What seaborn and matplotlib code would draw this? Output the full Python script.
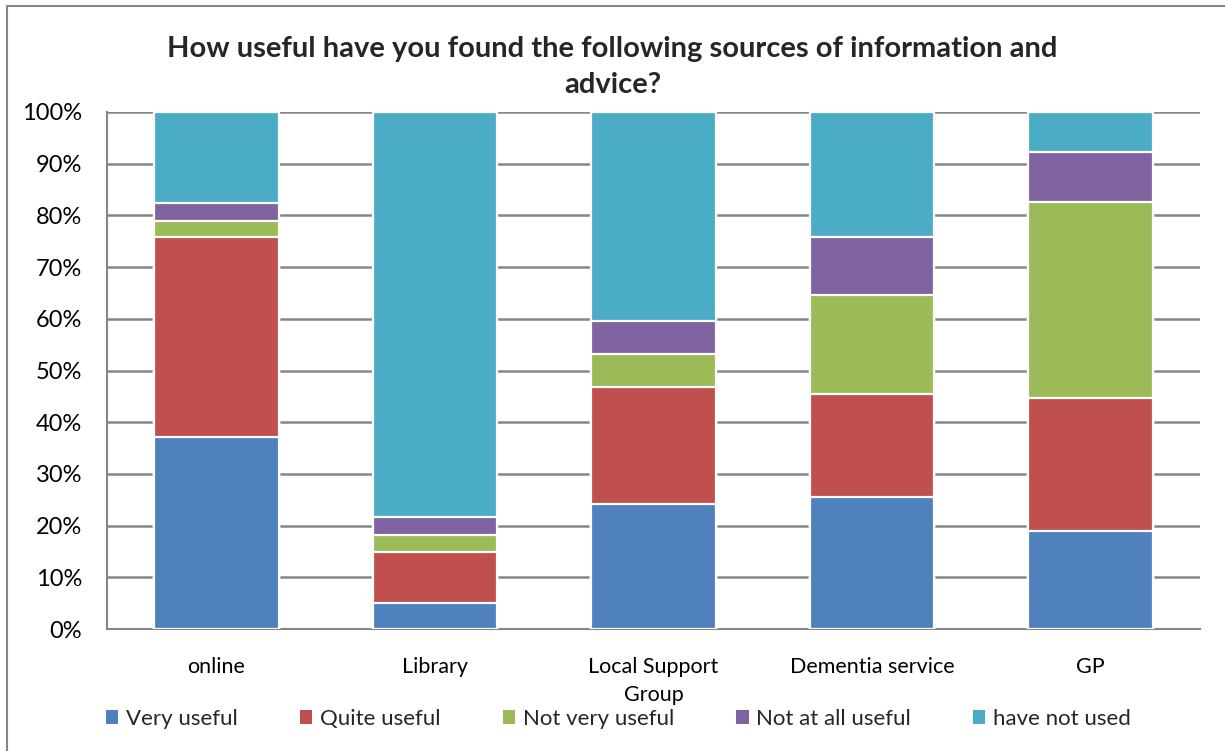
import numpy as np
import pandas as pd
import matplotlib
matplotlib.use("Agg")
import matplotlib.pyplot as plt
import seaborn as sns
from matplotlib.patches import Patch
from matplotlib.lines import Line2D

categories = ["online", "Library", "Local Support\nGroup", "Dementia service", "GP"]
series_names = ["Very useful", "Quite useful", "Not very useful", "Not at all useful", "have not used"]
very_useful = [37.2, 5.1, 24.1, 25.6, 19.0]
quite_useful = [38.6, 9.7, 22.8, 19.8, 25.6]
not_very_useful = [3.2, 3.4, 6.2, 19.3, 37.9]
not_at_all_useful = [3.4, 3.5, 6.5, 11.2, 9.7]
have_not_used = [17.6, 78.3, 40.4, 24.1, 7.8]
colors = ["#4F81BD", "#C0504D", "#9BBB59", "#8064A2", "#4BACC6"]
y_ticks = [0, 10, 20, 30, 40, 50, 60, 70, 80, 90, 100]
y_ticklabels = [f"{t}%" for t in y_ticks]

sns.set_theme(style="white")
plt.rcParams["font.family"] = ["Lato", "DejaVu Sans"]

values = [very_useful, quite_useful, not_very_useful, not_at_all_useful, have_not_used]
cum = np.cumsum(np.array(values), axis=0)
df = pd.DataFrame({"category": categories})
for name, c in zip(series_names, cum):
    df[name] = c

fig = plt.figure(figsize=(12.25, 7.51), dpi=100)
ax = fig.add_axes([107/1225, 1 - 629/751, (1200-107)/1225, (629-112)/751])

for i in range(len(series_names) - 1, -1, -1):
    sns.barplot(data=df, x="category", y=series_names[i], color=colors[i],
                width=0.57, edgecolor="white", linewidth=1.6, saturation=1,
                ax=ax, zorder=3)

ax.set_ylim(0, 100)
ax.set_xlim(-0.5, 4.5)
ax.set_yticks(y_ticks)
ax.set_yticklabels(y_ticklabels, fontsize=17, color="black")
ax.tick_params(axis="x", labelsize=15.5, colors="black", pad=20, length=0)
ax.tick_params(axis="y", pad=18, length=0)
for lab in ax.get_xticklabels():
    lab.set_verticalalignment("top")
    lab.set_linespacing(1.5)
ax.set_xlabel("")
ax.set_ylabel("")
ax.yaxis.grid(True, color="#868686", linewidth=1.8, zorder=0)
ax.set_axisbelow(True)
for s in ["top", "right"]:
    ax.spines[s].set_visible(False)
for s in ["left", "bottom"]:
    ax.spines[s].set_color("#868686")
    ax.spines[s].set_linewidth(1.5)

fig.text(0.5, 1 - 67/751, "How useful have you found the following sources of information and\nadvice?",
         ha="center", va="center", fontsize=21, fontweight="bold", linespacing=1.45)

handles = [Patch(facecolor=c, edgecolor="none") for c in colors]
fig.legend(handles, series_names, loc="center", bbox_to_anchor=(0.505, 1 - 719/751),
           ncol=5, frameon=False, fontsize=16, handlelength=0.55, handleheight=0.55,
           handletextpad=0.35, columnspacing=2.8)

# outer chart border
fig.add_artist(Line2D([7/1225, 7/1225], [0, 1 - 6/751], color="#868686", linewidth=1.5,
                      transform=fig.transFigure))
fig.add_artist(Line2D([7/1225, 1], [1 - 6/751, 1 - 6/751], color="#868686", linewidth=1.5,
                      transform=fig.transFigure))

fig.savefig("out.png", dpi=100, facecolor="white")
